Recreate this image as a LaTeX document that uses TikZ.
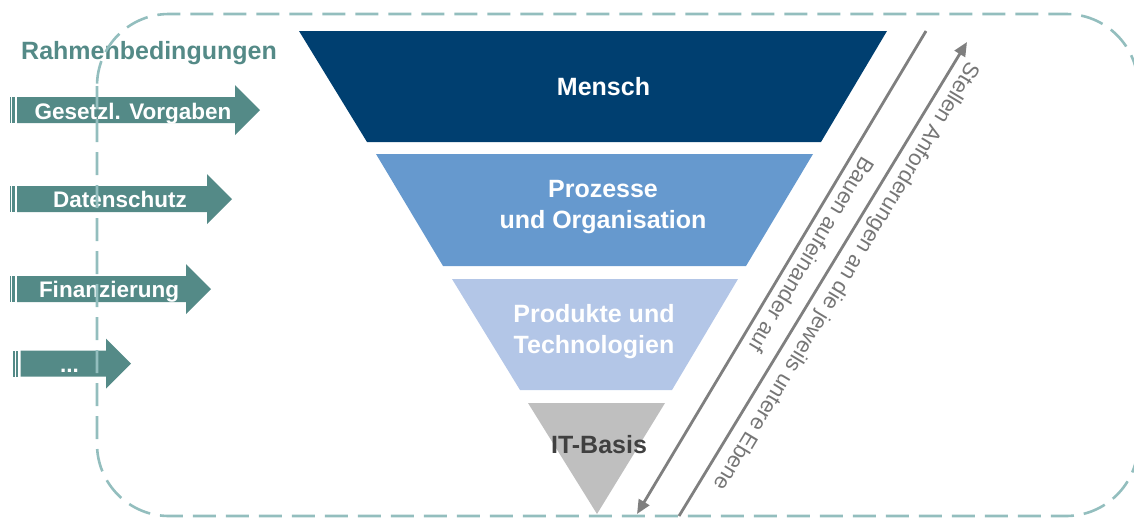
\documentclass[tikz,border=0pt]{standalone}
\usepackage{fontspec}
\setmainfont{Liberation Sans}
\usetikzlibrary{arrows.meta}
\definecolor{rbteal}{RGB}{84,138,135}
\definecolor{menschblue}{RGB}{0,63,112}
\definecolor{prozblue}{RGB}{102,153,206}
\definecolor{produktblue}{RGB}{179,198,231}
\definecolor{basisgray}{RGB}{191,191,191}
\definecolor{basistext}{RGB}{64,64,64}
\definecolor{frameteal}{RGB}{147,190,190}
\definecolor{arrgray}{RGB}{127,127,127}
\definecolor{flowgray}{RGB}{118,118,118}
\begin{document}
\begin{tikzpicture}[x=1pt,y=-1pt,
    layer/.style ={font=\bfseries\fontsize{25}{31}\selectfont, text=white, align=center, inner sep=0pt},
    cond/.style ={font=\bfseries\fontsize{22.5}{27}\selectfont, text=white, inner sep=0pt, anchor=base},
    flow/.style ={draw=arrgray, line width=2.8pt, -{Triangle[length=14pt,width=12pt]}},
    flowtext/.style ={font=\fontsize{22}{26}\selectfont, text=flowgray, rotate=-121, inner sep=0pt},
    frame/.style ={draw=frameteal, line width=2.6pt, dash pattern=on 23pt off 10pt, rounded corners=72pt}]
   \useasboundingbox (0,0) rectangle (1134,520);
   \clip (0,0) rectangle (1134,520);
   % funnel
   \fill[menschblue]  (299,31) -- (887,31) -- (821,142) -- (367,142) -- cycle;
   \fill[prozblue]    (376,154) -- (813,154) -- (746,266) -- (443,266) -- cycle;
   \fill[produktblue] (452,279) -- (738,279) -- (672,390) -- (520,390) -- cycle;
   \fill[basisgray]   (528,403) -- (665,403) -- (597,514) -- cycle;
   \node[layer, anchor=base] (mensch) at (603.5,95) {Mensch};
   \node[layer] (prozesse) at (603,207) {Prozesse\\und Organisation};
   \node[layer] (produkte) at (594,331.5) {Produkte und\\Technologien};
   \node[layer, anchor=base, text=basistext] (basis) at (599,453) {IT-Basis};
   % Rahmenbedingungen
   \foreach \c/\h/\s in {110/235/17, 199/207/17, 289/186/17, 363.5/106/20.7}{
     \fill[rbteal] (\s,\c-13) -- (\h,\c-13) -- (\h,\c-25) -- (\h+25,\c) -- (\h,\c+25) -- (\h,\c+13) -- (\s,\c+13) -- cycle;
     \fill[rbteal] (\s-7.3,\c-13) rectangle (\s-6,\c+13);
     \fill[rbteal] (\s-4.7,\c-13) rectangle (\s-2.3,\c+13);
   }
   \node[font=\bfseries\fontsize{25}{29}\selectfont, text=rbteal, inner sep=0pt, anchor=base] (rahmen) at (149,59) {Rahmenbedingungen};
   \node[cond] (gesetz) at (133,119) {Gesetzl. Vorgaben};
   \node[cond] (daten) at (120,207.5) {Datenschutz};
   \node[cond] (finanz) at (109,297) {Finanzierung};
   \node[cond] (weitere) at (69.5,372) {...};
   % Beziehungen
   \coordinate (bauenA) at (926,31);
   \coordinate (bauenB) at (637,514);
   \coordinate (stellenA) at (679,516);
   \coordinate (stellenB) at (967,42);
   \draw[flow] (bauenA) -- (bauenB);
   \draw[flow] (stellenA) -- (stellenB);
   \node[flowtext] (bauen) at (812,255) {Bauen aufeinander auf};
   \node[flowtext] (stellen) at (846,276) {Stellen Anforderungen an die jeweils untere Ebene};
   \draw[frame] (97,14) rectangle (1138,516);
 \end{tikzpicture}
\end{document}
